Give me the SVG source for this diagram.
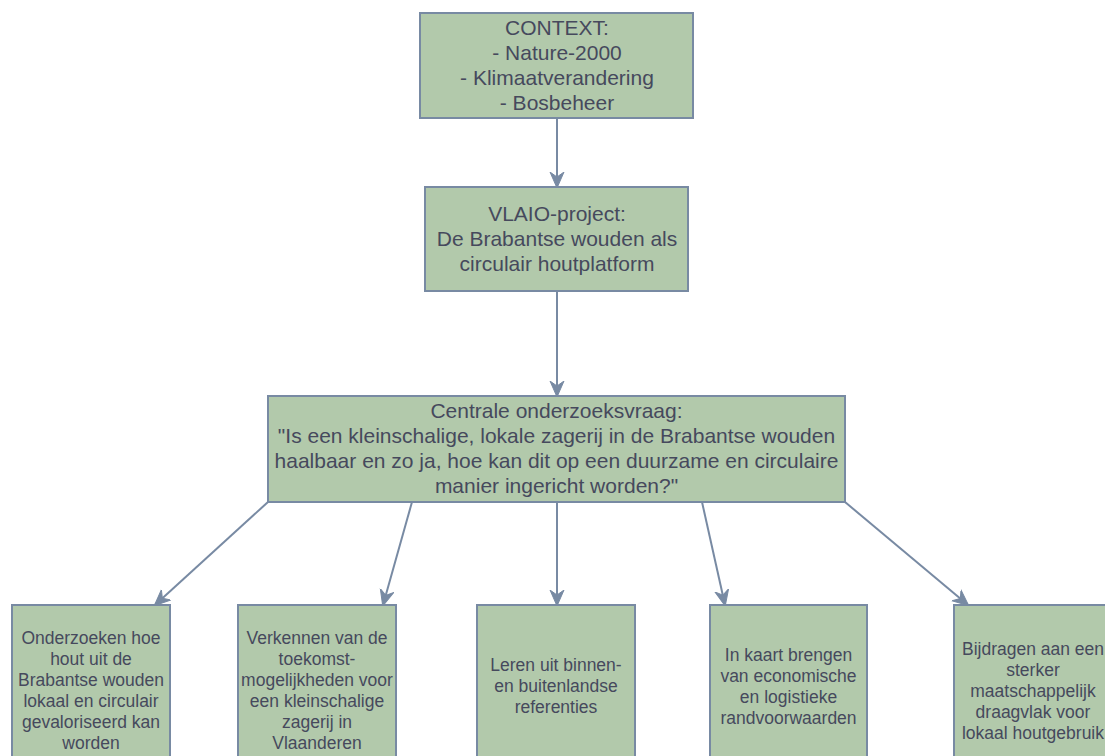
<svg xmlns="http://www.w3.org/2000/svg" width="1105" height="756" viewBox="0 0 1105 756">
<defs>
<style>
.box{fill:#B2C9AB;stroke:#788AA3;stroke-width:2}
.t{font-family:"Liberation Sans",Arial,sans-serif;fill:#46495D;text-anchor:middle}
.big{font-size:21px}
.sm{font-size:17.5px}
.edge{stroke:#788AA3;stroke-width:2;fill:none;marker-end:url(#arr)}
</style>
<marker id="arr" viewBox="0 0 16 16" refX="15" refY="8" markerWidth="16" markerHeight="16" markerUnits="userSpaceOnUse" orient="auto">
<path d="M0,1 L16,8 L0,15 L5,8 Z" fill="#788AA3" stroke="#788AA3" stroke-width="1"/>
</marker>
</defs>
<rect width="1105" height="756" fill="#FFFFFF"/>
<g id="connectors">
<line class="edge" x1="557" y1="118" x2="557" y2="187"/>
<line class="edge" x1="557" y1="291" x2="557" y2="396"/>
<line class="edge" x1="268" y1="502" x2="155" y2="605"/>
<line class="edge" x1="412" y1="502" x2="383" y2="605"/>
<line class="edge" x1="557" y1="502" x2="557" y2="605"/>
<line class="edge" x1="702" y1="502" x2="725" y2="605"/>
<line class="edge" x1="845" y1="502" x2="968" y2="605"/>
</g>
<g id="context">
<rect class="box" x="420" y="13" width="273" height="105"/>
<text class="t big"><tspan x="557" y="35">CONTEXT:</tspan><tspan x="557" y="60">- Nature-2000</tspan><tspan x="557" y="85">- Klimaatverandering</tspan><tspan x="557" y="110">- Bosbeheer</tspan></text>
</g>
<g id="vlaio">
<rect class="box" x="425" y="187" width="263" height="104"/>
<text class="t big"><tspan x="557" y="221">VLAIO-project:</tspan><tspan x="557" y="246">De Brabantse wouden als</tspan><tspan x="557" y="271">circulair houtplatform</tspan></text>
</g>
<g id="vraag">
<rect class="box" x="268" y="396" width="577" height="106"/>
<text class="t big"><tspan x="556.5" y="418">Centrale onderzoeksvraag:</tspan><tspan x="556.5" y="443">"Is een kleinschalige, lokale zagerij in de Brabantse wouden</tspan><tspan x="556.5" y="468">haalbaar en zo ja, hoe kan dit op een duurzame en circulaire</tspan><tspan x="556.5" y="493">manier ingericht worden?"</tspan></text>
</g>
<g id="doel1">
<rect class="box" x="12" y="605" width="158" height="164"/>
<text class="t sm"><tspan x="91" y="644">Onderzoeken hoe</tspan><tspan x="91" y="665">hout uit de</tspan><tspan x="91" y="686">Brabantse wouden</tspan><tspan x="91" y="707">lokaal en circulair</tspan><tspan x="91" y="728">gevaloriseerd kan</tspan><tspan x="91" y="749">worden</tspan></text>
</g>
<g id="doel2">
<rect class="box" x="238" y="605" width="158" height="164"/>
<text class="t sm"><tspan x="317" y="644">Verkennen van de</tspan><tspan x="317" y="665">toekomst-</tspan><tspan x="317" y="686">mogelijkheden voor</tspan><tspan x="317" y="707">een kleinschalige</tspan><tspan x="317" y="728">zagerij in</tspan><tspan x="317" y="749">Vlaanderen</tspan></text>
</g>
<g id="doel3">
<rect class="box" x="477" y="605" width="158" height="164"/>
<text class="t sm"><tspan x="556" y="671">Leren uit binnen-</tspan><tspan x="556" y="692">en buitenlandse</tspan><tspan x="556" y="713">referenties</tspan></text>
</g>
<g id="doel4">
<rect class="box" x="710" y="605" width="157" height="164"/>
<text class="t sm"><tspan x="788.5" y="661">In kaart brengen</tspan><tspan x="788.5" y="682">van economische</tspan><tspan x="788.5" y="703">en logistieke</tspan><tspan x="788.5" y="724">randvoorwaarden</tspan></text>
</g>
<g id="doel5">
<rect class="box" x="954" y="605" width="158" height="164"/>
<text class="t sm"><tspan x="1033" y="655">Bijdragen aan een</tspan><tspan x="1033" y="676">sterker</tspan><tspan x="1033" y="697">maatschappelijk</tspan><tspan x="1033" y="718">draagvlak voor</tspan><tspan x="1033" y="739">lokaal houtgebruik</tspan></text>
</g>
</svg>
